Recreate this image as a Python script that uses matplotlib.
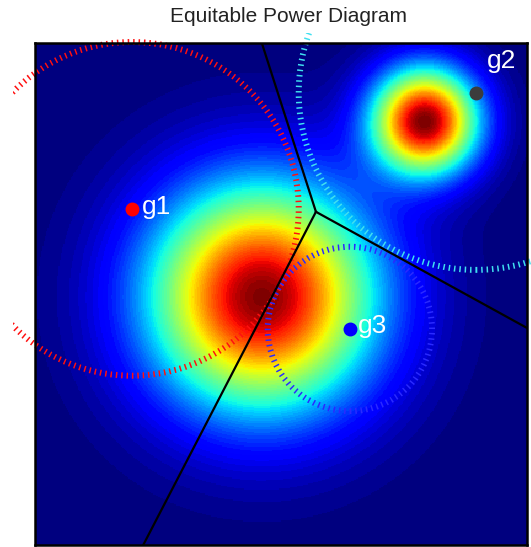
import numpy as np
import matplotlib.pyplot as plt
from matplotlib.patches import Circle, Rectangle

# generators (box is 10 wide, 10.2 high)
names = ['g1', 'g2', 'g3']
gx = [1.97, 8.96, 6.40]
gy = [6.83, 9.19, 4.39]
radii = [3.39, 3.60, 1.67]
pt_colors = ['#ff0000', '#3c3c3c', '#0000ff']
ring_colors = ['#ff1010', '#40e0f0', '#2a2aff']
# label offsets from the point
lab_dx = [0.2, 0.22, 0.16]
lab_dy = [-0.1, 0.5, -0.08]

# density bumps
bx = [4.61, 7.93]
by = [5.04, 8.62]
bs = [1.59, 0.75]

# power diagram: one inner vertex and where the edges hit the box
vx, vy = 5.71, 6.77
ex = [4.61, 10.0, 2.20]
ey = [10.2, 4.41, 0.0]

xs = np.linspace(0, 10, 400)
ys = np.linspace(0, 10.2, 408)
X, Y = np.meshgrid(xs, ys)
Z = np.zeros_like(X)
for cx, cy, s in zip(bx, by, bs):
    Z += np.exp(-((X - cx)**2 + (Y - cy)**2) / (2 * s**2))

fig = plt.figure(figsize=(5.31, 5.47), dpi=100)
ax = fig.add_axes([35/531, 2/547, 492/531, 502/547])
ax.imshow(Z, extent=[0, 10, 0, 10.2], origin='lower', cmap=plt.get_cmap('jet', 64),
          vmin=0, vmax=Z.max(), aspect='auto', interpolation='nearest')

for i in range(3):
    ax.plot([vx, ex[i]], [vy, ey[i]], color='k', lw=1.6)

# rings spill out of the box a little, but not all the way to the figure edge
clip = Rectangle((13/531, 0), 1, 514/547, transform=fig.transFigure)

for i in range(3):
    ring = Circle((gx[i], gy[i]), radii[i], fill=False, ec=ring_colors[i],
                  lw=4.3, linestyle=(0, (0.25, 0.65)))
    ax.add_patch(ring)
    ring.set_clip_path(clip)
    ax.plot(gx[i], gy[i], 'o', color=pt_colors[i], ms=9)
    ax.text(gx[i] + lab_dx[i], gy[i] + lab_dy[i], names[i], color='white', fontsize=19,
            family='Liberation Sans', va='baseline')

ax.set_xlim(0, 10)
ax.set_ylim(0, 10.2)
ax.set_xticks([])
ax.set_yticks([])
for sp in ax.spines.values():
    sp.set_linewidth(1.8)
ax.set_title('Equitable Power Diagram', fontsize=15, family='Liberation Sans',
             color='#222222', pad=15, x=0.5 + 8/492)

fig.savefig('out.png', dpi=100)
